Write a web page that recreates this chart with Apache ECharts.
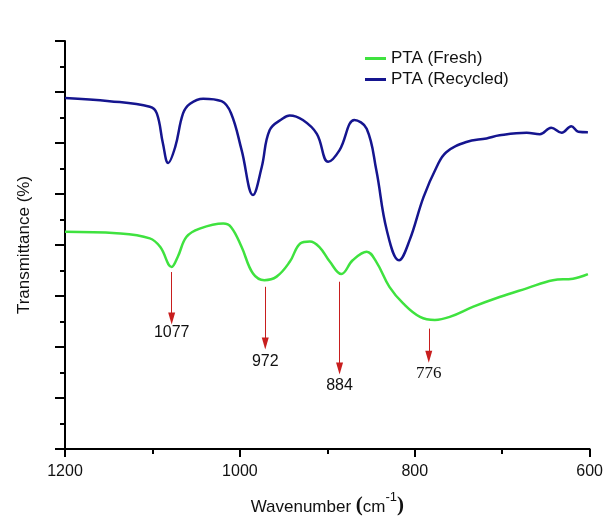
<!DOCTYPE html>
<html style="height: 100%">

<head>
  <meta charset="UTF-8" />
  <title>PTA FTIR</title>
  <script src="https://cdn.jsdelivr.net/npm/echarts@6/dist/echarts.min.js"></script>
</head>

<body style="height: 100%; margin: 0; background: #fff">
  <div id="main" style="width: 606px; height: 523px"></div>
  <script>
    // wavenumber (cm-1) and transmittance readings
    const recycledWave = [1200, 1149, 1103, 1095, 1088, 1082, 1074, 1065, 1057, 1042, 1021, 1010, 998, 985, 975, 966, 951, 943, 928, 912, 899, 886, 869, 855, 844, 832, 818, 806, 790, 775, 764, 741, 718, 703, 672, 657, 644, 632, 621, 613, 602];
    const recycledT = [68.8, 68.2, 67.1, 65.8, 59.9, 56.1, 59.2, 65.8, 67.7, 68.7, 68.2, 65.8, 58.6, 49.8, 55.3, 62.5, 64.8, 65.4, 64.5, 61.8, 56.3, 58.6, 64.5, 62.8, 54.7, 42.9, 37.0, 40.9, 49.4, 55.3, 58.2, 60.2, 60.9, 61.5, 62.0, 61.7, 63.0, 62.0, 63.3, 62.2, 62.1];

    const freshWave = [1200, 1141, 1103, 1091, 1078, 1071, 1061, 1046, 1019, 1010, 998, 985, 972, 958, 943, 931, 920, 909, 897, 884, 871, 855, 844, 829, 813, 794, 777, 760, 733, 703, 672, 642, 619, 602];
    const freshT = [42.6, 42.3, 41.3, 39.6, 35.7, 37.7, 41.6, 43.2, 44.2, 43.5, 39.6, 34.4, 33.1, 33.8, 36.7, 40.3, 40.7, 39.6, 36.7, 34.3, 37.0, 38.7, 36.7, 31.8, 28.5, 25.9, 25.3, 25.9, 27.9, 29.8, 31.5, 33.1, 33.4, 34.3];

    // peak markers: where each arrow stands, its start/end, and its label
    const peakPos = [1078, 971, 886, 784];
    const arrowTop = [34.7, 31.8, 32.8, 23.6];
    const arrowEnd = [25.6, 20.7, 15.8, 18.1];
    const peakLabels = ['1077', '972', '884', '776'];
    const labelGap = [6, 10, 9, 8];

    const chart = echarts.init(document.getElementById('main'));

    const zip = (xs, ys) => xs.map((x, i) => [x, ys[i]]);

    const arrows = peakPos.map((p, i) => [
      { coord: [p, arrowTop[i]], symbol: 'none' },
      {
        coord: [p, arrowEnd[i]],
        symbol: 'triangle',
        symbolSize: [7, 12],
        symbolRotate: 180,
        label: {
          show: true,
          position: 'end',
          distance: labelGap[i],
          formatter: peakLabels[i],
          fontFamily: i === 3 ? 'Liberation Serif' : 'Liberation Sans',
          fontSize: i === 3 ? 17 : 16,
          color: '#111'
        }
      }
    ]);

    const option = {
      backgroundColor: '#fff',
      animation: false,
      legend: {
        orient: 'vertical',
        left: 360,
        top: 45,
        itemWidth: 21,
        itemHeight: 3,
        itemGap: 4,
        icon: 'rect',
        textStyle: { fontFamily: 'Liberation Sans', fontSize: 17, color: '#111' },
        data: ['PTA (Fresh)', 'PTA (Recycled)']
      },
      grid: { left: 65, right: 16, top: 41, bottom: 74 },
      xAxis: {
        type: 'value',
        inverse: true,
        min: 600,
        max: 1200,
        interval: 200,
        name: '{a|Wavenumber }{p|(}{a|cm}{s|-1}{p|)}',
        nameLocation: 'middle',
        nameGap: 42,
        nameTextStyle: {
          rich: {
            a: { fontFamily: 'Liberation Sans', fontSize: 17, color: '#111', verticalAlign: 'bottom' },
            p: { fontFamily: 'Liberation Serif', fontSize: 21, fontWeight: 'bold', color: '#111', verticalAlign: 'bottom' },
            s: { fontFamily: 'Liberation Sans', fontSize: 13, color: '#111', verticalAlign: 'top', padding: [0, 0, 12, 0] }
          }
        },
        splitLine: { show: false },
        axisLine: { lineStyle: { color: '#000', width: 2 } },
        axisTick: { length: 8, lineStyle: { color: '#000', width: 2 } },
        minorTick: { show: true, splitNumber: 2, length: 5, lineStyle: { color: '#000', width: 2 } },
        axisLabel: {
          fontFamily: 'Liberation Sans',
          fontSize: 16,
          color: '#111',
          margin: 15,
          formatter: (v) => String(v)
        }
      },
      yAxis: {
        type: 'value',
        min: 0,
        max: 80,
        interval: 10,
        name: 'Transmittance (%)',
        nameLocation: 'middle',
        nameGap: 32,
        nameTextStyle: { fontFamily: 'Liberation Sans', fontSize: 17, color: '#111' },
        splitLine: { show: false },
        axisLine: { show: true, lineStyle: { color: '#000', width: 2 } },
        axisTick: { show: true, length: 10, lineStyle: { color: '#000', width: 2 } },
        minorTick: { show: true, splitNumber: 2, length: 5, lineStyle: { color: '#000', width: 2 } },
        axisLabel: { show: false }
      },
      series: [
        {
          name: 'PTA (Fresh)',
          type: 'line',
          data: zip(freshWave, freshT),
          smooth: 0.4,
          showSymbol: false,
          itemStyle: { color: '#3fe23f' },
          lineStyle: { color: '#3fe23f', width: 2.5 },
          markLine: {
            silent: true,
            lineStyle: { color: '#c81e1e', width: 1, type: 'solid' },
            itemStyle: { color: '#e01010' },
            data: arrows
          }
        },
        {
          name: 'PTA (Recycled)',
          type: 'line',
          data: zip(recycledWave, recycledT),
          smooth: 0.4,
          showSymbol: false,
          itemStyle: { color: '#15158f' },
          lineStyle: { color: '#15158f', width: 2.5 }
        }
      ]
    };

    chart.setOption(option);
  </script>
</body>

</html>
